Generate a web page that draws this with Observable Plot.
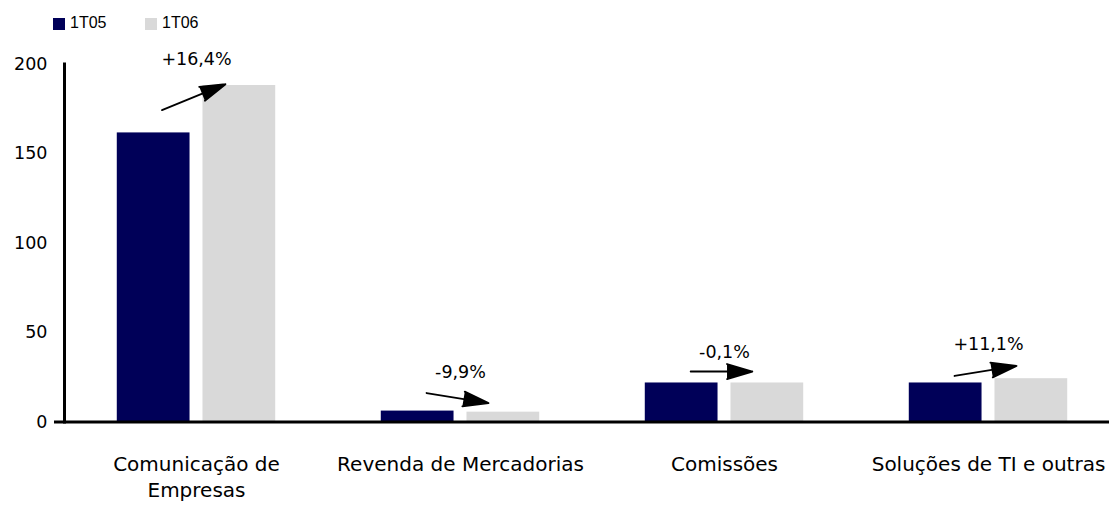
<!DOCTYPE html>
<html><head><meta charset="utf-8">
<script src="https://cdn.jsdelivr.net/npm/d3@7"></script>
<script src="https://cdn.jsdelivr.net/npm/@observablehq/plot@0.6"></script>
<style>
body{margin:0;background:#fff;}
#wrap{position:relative;width:1109px;height:506px;overflow:hidden;background:#fff;}
#legend{position:absolute;left:0;top:0;font-family:"Liberation Sans",Arial,sans-serif;font-size:16px;color:#000;}
#legend .item{position:absolute;top:14px;display:flex;align-items:center;white-space:nowrap;}
#legend .sw{width:12px;height:12px;margin-right:5px;margin-top:2px;}
#chart{position:absolute;left:0;top:0;}
</style></head>
<body><div id="wrap"><div id="chart"></div><div id="legend"></div></div>
<script>
const categories = ["Comunicação de Empresas", "Revenda de Mercadorias", "Comissões", "Soluções de TI e outras"];
const categoryLabels = ["Comunicação de\nEmpresas", "Revenda de Mercadorias", "Comissões", "Soluções de TI e outras"];
const series = ["1T05", "1T06"];
const values1T05 = [161.5, 6.1, 21.8, 21.8];
const values1T06 = [188.0, 5.5, 21.8, 24.2];
const changeLabels = ["+16,4%", "-9,9%", "-0,1%", "+11,1%"];
const arrowFrom = [172.3, 17.0, 28.2, 24.9];
const arrowTo = [191.9, 9.2, 28.2, 32.7];
const yTicks = [0, 50, 100, 150, 200];
const colors = ["#000058", "#d9d9d9"];

const bars = categories.flatMap((c, i) => [
  {category: c, series: series[0], value: values1T05[i]},
  {category: c, series: series[1], value: values1T06[i]}
]);
const notes = categories.map((c, i) => ({category: c, from: arrowFrom[i], to: arrowTo[i], label: changeLabels[i]}));

const chart = Plot.plot({
  width: 1109,
  height: 506,
  marginTop: 63.5,
  marginBottom: 84.5,
  marginLeft: 62,
  marginRight: -12,
  style: {fontFamily: "DejaVu Sans", color: "black", background: "transparent"},
  fx: {domain: categories, padding: 0, label: null},
  x: {domain: series, paddingInner: 0.151, paddingOuter: 0.616, round: false, axis: null},
  y: {domain: [0, 200], label: null},
  color: {domain: series, range: colors},
  marks: [
    Plot.barY(bars, {fx: "category", x: "series", y: "value", fill: "series"}),
    Plot.ruleY(categories.slice(1), {fx: (d) => d, y: () => 0, stroke: "black", strokeWidth: 3}),
    Plot.ruleY(categories.slice(0, 1), {fx: (d) => d, y: () => 0, stroke: "black", strokeWidth: 3, insetLeft: -10}),
    Plot.frame({anchor: "left", facetAnchor: "left", stroke: "black", strokeWidth: 3}),
    Plot.axisY({ticks: yTicks, tickSize: 0, tickPadding: 17, fontSize: 17.5, label: null}),
    Plot.axisFx({anchor: "bottom", tickSize: 0, tickPadding: 31, fontSize: 20, lineHeight: 1.3, label: null,
      tickFormat: (c) => categoryLabels[categories.indexOf(c)]}),
    Plot.arrow(notes, {fx: "category", x1: () => series[0], x2: () => series[1], y1: "from", y2: "to",
      insetStart: 9, insetEnd: 15, stroke: "black", fill: "black", strokeWidth: 1.8, headLength: 22, headAngle: 33}),
    Plot.text(notes, {fx: "category", y: (d) => Math.max(d.from, d.to), text: "label", dy: -19, fontSize: 17.5, fill: "black"})
  ]
});
document.getElementById("chart").appendChild(chart);

const legend = document.getElementById("legend");
const legendLeft = [53, 145];
series.forEach((s, i) => {
  const item = document.createElement("div");
  item.className = "item";
  item.style.left = legendLeft[i] + "px";
  const sw = document.createElement("div");
  sw.className = "sw";
  sw.style.background = colors[i];
  const t = document.createElement("span");
  t.textContent = s;
  item.appendChild(sw);
  item.appendChild(t);
  legend.appendChild(item);
});
</script>
</body></html>
